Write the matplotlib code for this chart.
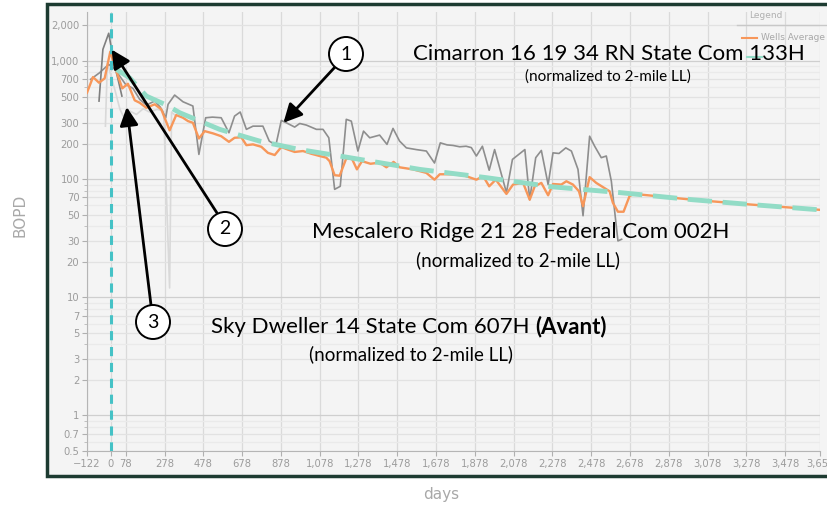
import matplotlib
matplotlib.use("Agg")
import matplotlib.pyplot as plt
from matplotlib.patches import Rectangle, Ellipse
from matplotlib.ticker import FixedLocator, NullFormatter

W, H = 828, 508

# wells average (orange), days vs BOPD
avg_days = [-122, -91, -60, -31, -2, 21, 38, 60, 89, 124, 150, 184, 227, 261, 304, 338,
            373, 399, 424, 455, 485, 528, 570, 610, 639, 674, 700, 734, 777, 811, 846,
            880, 914, 949, 992, 1035, 1078, 1112, 1129, 1155, 1181, 1215, 1245, 1270,
            1296, 1340, 1387, 1422, 1459, 1490, 1559, 1628, 1670, 1697, 1765, 1826,
            1886, 1921, 1952, 1986, 2041, 2075, 2127, 2161, 2187, 2221, 2256, 2281,
            2324, 2350, 2384, 2415, 2436, 2470, 2504, 2547, 2573, 2590, 2616, 2645,
            2676, 2700, 3000, 3300, 3658]
avg_bopd = [539, 732, 655, 713, 1200, 907, 746, 587, 642, 465, 443, 402, 430, 390, 259, 349,
            331, 310, 300, 221, 255, 244, 231, 207, 224, 226, 194, 197, 188, 167, 160,
            187, 178, 170, 173, 164, 157, 152, 142, 108, 107, 150, 148, 121,
            142, 135, 138, 126, 140, 126, 121, 113, 99, 110, 110, 107,
            99, 106, 87, 99, 75, 90, 93, 67, 87, 93, 73, 91,
            90, 96, 90, 79, 59, 104, 93, 84, 79, 63, 53, 53,
            72, 75, 67, 61, 55]

# Cimarron 16 19 34 RN State Com 133H
cim_days = [-103, -57, -10, 20, 77, 115, 150, 184, 227, 256, 284, 296, 330, 373, 424,
            455, 490, 525, 570, 610, 639, 668, 700, 734, 785, 818, 852, 880, 906, 949,
            975, 1009, 1061, 1095, 1125, 1155, 1184, 1215, 1241, 1275, 1304, 1336, 1387,
            1425, 1456, 1490, 1525, 1576, 1628, 1670, 1700, 1735, 1765, 1800, 1833,
            1860, 1886, 1917, 1952, 1980, 2041, 2072, 2136, 2161, 2192, 2221, 2256,
            2281, 2312, 2347, 2376, 2410, 2436, 2470, 2496, 2530, 2556, 2582, 2616, 2635]
cim_bopd = [700, 796, 937, 860, 634, 587, 473, 424, 458, 407, 331, 430, 515, 452, 416,
            162, 331, 335, 331, 247, 342, 370, 264, 281, 281, 210, 194, 314, 300, 276,
            296, 287, 264, 264, 224, 82, 87, 321, 310, 173, 255, 224, 236,
            197, 269, 210, 184, 178, 173, 137, 203, 195, 193, 188, 190,
            185, 157, 190, 119, 178, 77, 147, 178, 67, 152, 175, 90,
            167, 165, 184, 173, 121, 49, 231, 190, 152, 157, 96, 30, 31]

# Mescalero Ridge 21 28 Federal Com 002H
mes_days = [-27, -17, 21, 48, 65, 99, 133, 168, 200, 240, 273, 304, 314, 330]
mes_bopd = [281, 967, 576, 390, 342, 377, 353, 395, 370, 390, 377, 12, 370, 350]

# Sky Dweller 14 State Com 607H
sky_days = [-60, -40, -10, 17, 38, 58]
sky_bopd = [458, 1256, 1718, 967, 700, 505]

# type curve fit
fit_days = [30, 98, 184, 287, 356, 562, 768, 975, 1181, 1594, 1937, 2281, 2624, 3000, 3300, 3658]
fit_bopd = [850, 720, 505, 424, 365, 264, 210, 178, 157, 121, 103, 86, 77, 67, 61, 55]

x_ticks = [-122, 0, 78, 278, 478, 678, 878, 1078, 1278, 1478, 1678, 1878, 2078,
           2278, 2478, 2678, 2878, 3078, 3278, 3478, 3658]
y_ticks = [0.5, 0.7, 1, 2, 3, 5, 7, 10, 20, 30, 50, 70, 100, 200, 300, 500, 700, 1000, 2000]
y_minor = [0.6, 0.8, 0.9, 4, 6, 8, 9, 40, 60, 80, 90, 400, 600, 800, 900]


def fig_px(x, y):
    """top-left pixel position -> figure fraction"""
    return x / W, 1 - y / H


fig = plt.figure(figsize=(W / 100, H / 100), dpi=100)
fig.patch.set_facecolor("white")

# panel frame
fig.patches.append(Rectangle(fig_px(47, 476), (W + 10 - 47) / W, (476 - 4) / H,
                             transform=fig.transFigure, facecolor="#f4f4f4",
                             edgecolor="#1d3b31", lw=2.5, zorder=-5))

ax = fig.add_axes([87 / W, 1 - 451 / H, (820 - 87) / W, (451 - 12) / H])
ax.set_facecolor("#f4f4f4")
ax.set_yscale("log")
ax.set_xlim(-122, 3658)
ax.set_ylim(0.5, 2600)

# grid
for x in x_ticks:
    ax.axvline(x, color="#dadada", lw=0.9, zorder=1)
for y in y_ticks + y_minor:
    if y in (1, 10, 100, 1000):
        c = "#cfcfcf"
    elif y in y_ticks:
        c = "#e2e2e2"
    else:
        c = "#eaeaea"
    ax.axhline(y, color=c, lw=0.9, zorder=1)

ax.plot(mes_days, mes_bopd, color="#d9d9d9", lw=1.2, zorder=3)
ax.plot(cim_days, cim_bopd, color="#8e8e8e", lw=1.2, zorder=4)
ax.plot(sky_days, sky_bopd, color="#7f7f7f", lw=1.2, zorder=4)
ax.plot(avg_days, avg_bopd, color="#f7975a", lw=1.7, zorder=5)
ax.plot(fit_days, fit_bopd, color="#92dcc6", lw=3.5, dashes=(5, 2.2), zorder=6)
ax.axvline(0, color="#45c2c6", lw=2.2, dashes=(3, 2.2), zorder=7)

# axes styling
for s in ("top", "right"):
    ax.spines[s].set_visible(False)
for s in ("left", "bottom"):
    ax.spines[s].set_color("#b5b5b5")
ax.xaxis.set_major_locator(FixedLocator(x_ticks))
ax.set_xticklabels([f"{x:,}".replace("-", "\u2212") for x in x_ticks])
ax.yaxis.set_major_locator(FixedLocator(y_ticks))
ax.yaxis.set_minor_locator(FixedLocator(y_minor))
ax.yaxis.set_minor_formatter(NullFormatter())
ax.set_yticklabels([f"{y:,}" if y >= 1 else str(y) for y in y_ticks])
ax.tick_params(axis="both", which="major", colors="#b0b0b0", labelcolor="#9c9c9c",
               labelsize=7.2, length=3.5, width=0.8, pad=2)
ax.tick_params(axis="y", which="minor", colors="#b8b8b8", length=2, width=0.6)

fig.text(*fig_px(20, 215), "BOPD", rotation=90, ha="center", va="center",
         color="#a8a8a8", fontsize=11)
fig.text(*fig_px(441, 494), "days", ha="center", va="center", color="#a8a8a8", fontsize=11)

# legend stub in the corner
fig.text(*fig_px(749, 15), "Legend", ha="left", va="center", color="#b0b0b0", fontsize=6.5)
fig.add_artist(plt.Line2D([737 / W, 1], [1 - 25 / H] * 2, transform=fig.transFigure,
                          color="#c8c8c8", lw=1))
fig.add_artist(plt.Line2D([742 / W, 757 / W], [1 - 38 / H] * 2, transform=fig.transFigure,
                          color="#f7975a", lw=1.5))
fig.text(*fig_px(761, 38), "Wells Average", ha="left", va="center", color="#a8a8a8",
         fontsize=6.5)
fig.add_artist(plt.Line2D([747 / W, 762 / W], [1 - 57 / H] * 2, transform=fig.transFigure,
                          color="#92dcc6", lw=1.5))

# well captions
big = dict(family="Lato", fontsize=16, color="black", va="center")
small = dict(family="Lato", color="black", va="center", ha="center")
fig.text(*fig_px(609, 54), "Cimarron 16 19 34 RN State Com 133H", ha="center", **big)
fig.text(*fig_px(608, 77), "(normalized to 2-mile LL)", fontsize=11, **small)
fig.text(*fig_px(521, 232), "Mescalero Ridge 21 28 Federal Com 002H", ha="center", **big)
fig.text(*fig_px(518, 260), "(normalized to 2-mile LL)", fontsize=13.5, **small)

r = fig.canvas.get_renderer()
t = fig.text(*fig_px(211, 327), "Sky Dweller 14 State Com 607H ", ha="left", **big)
bb = t.get_window_extent(renderer=r)
fig.text(bb.x1 / W, 1 - 327 / H, "(Avant)", ha="left", fontweight="bold", **big)
fig.text(*fig_px(411, 354), "(normalized to 2-mile LL)", fontsize=13.5, **small)

# numbered callouts
callouts = [
    ("1", (346, 54), (335, 67), (891, 300)),
    ("2", (225, 229), (217, 213), (5, 1250)),
    ("3", (153, 322), (151, 305), (83, 408)),
]
for label, (cx, cy), (sx, sy), tip in callouts:
    ax.annotate("", xy=tip, xycoords="data", xytext=(sx, H - sy),
                textcoords="figure pixels",
                arrowprops=dict(arrowstyle="-|>", color="black", lw=2,
                                mutation_scale=28, shrinkA=0, shrinkB=0),
                zorder=10, annotation_clip=False)
    fig.patches.append(Ellipse(fig_px(cx, cy), 34 / W, 34 / H, transform=fig.transFigure,
                               facecolor="white", edgecolor="black", lw=1.4, zorder=11))
    fig.text(*fig_px(cx, cy), label, ha="center", va="center", family="Lato",
             fontsize=14, zorder=12)

fig.savefig("out.png", dpi=100)
